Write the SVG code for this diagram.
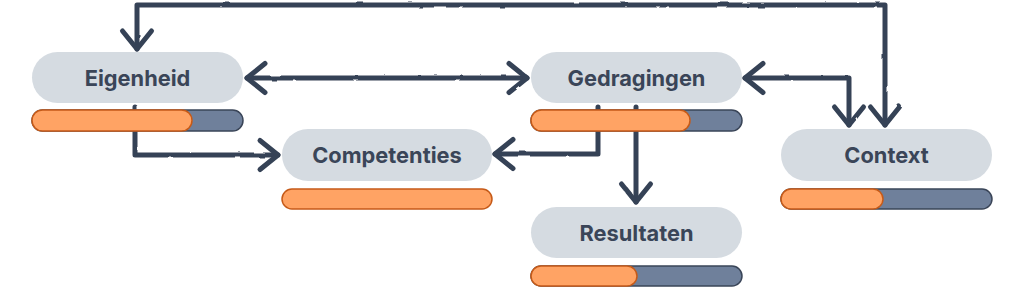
<svg xmlns="http://www.w3.org/2000/svg" width="1024" height="290" viewBox="0 0 1024 290">
<style>
.node{fill:#d5dbe1}
.lbl{font-family:Inter,"Liberation Sans",Arial,sans-serif;font-weight:700;font-size:21.8px;fill:#3a4558;text-anchor:middle}
.track{fill:#6f809b;stroke:#3a4558;stroke-width:1.5}
.fill{fill:#ffa364;stroke:#c65a18;stroke-width:1.5}
.conn{fill:none;stroke:#364256;stroke-width:5;stroke-linecap:round;stroke-linejoin:round}
</style>
<defs>
<marker id="ah" markerUnits="userSpaceOnUse" viewBox="-24 -19 28 38" markerWidth="28" markerHeight="38" refX="0" refY="0" orient="auto-start-reverse">
<path d="M-18,-14.5 L0,0 L-18,14.5" fill="none" stroke="#364256" stroke-width="5" stroke-linecap="round" stroke-linejoin="round"/>
</marker>
<filter id="rough" x="-5%" y="-10%" width="110%" height="120%">
<feTurbulence type="fractalNoise" baseFrequency="0.06" numOctaves="2" seed="3"/>
<feDisplacementMap in="SourceGraphic" scale="2.2"/>
</filter>
</defs>
<g id="connectors" class="conn" filter="url(#rough)">
<path d="M137,49 L137,5 L885,5 L885,125" marker-start="url(#ah)" marker-end="url(#ah)"/>
<path d="M247,78 L527,78" marker-start="url(#ah)" marker-end="url(#ah)"/>
<path d="M745,78 L849,78 L849,125" marker-start="url(#ah)" marker-end="url(#ah)"/>
<path d="M135,107 L135,155 L278,155" marker-end="url(#ah)"/>
<path d="M598,107 L598,154 L495,154" marker-end="url(#ah)"/>
<path d="M636,107 L636,202" marker-end="url(#ah)"/>
</g>
<g id="eigenheid">
<rect class="node" x="32" y="52" width="211" height="51" rx="25.5"/>
<text class="lbl" x="137.5" y="86">Eigenheid</text>
<rect class="track" x="32" y="110" width="211" height="21" rx="10.5"/>
<rect class="fill" x="32" y="110" width="160" height="21" rx="10.5"/>
</g>
<g id="gedragingen">
<rect class="node" x="531" y="52" width="211" height="51" rx="25.5"/>
<text class="lbl" x="636.5" y="86">Gedragingen</text>
<rect class="track" x="531" y="110" width="211" height="21" rx="10.5"/>
<rect class="fill" x="531" y="110" width="159" height="21" rx="10.5"/>
</g>
<g id="competenties">
<rect class="node" x="282" y="129" width="210" height="52" rx="26"/>
<text class="lbl" x="387" y="163">Competenties</text>
<rect class="fill" x="282" y="189" width="210" height="20" rx="10"/>
</g>
<g id="context">
<rect class="node" x="781" y="129" width="211" height="52" rx="26"/>
<text class="lbl" x="886.5" y="163">Context</text>
<rect class="track" x="781" y="189" width="211" height="20" rx="10"/>
<rect class="fill" x="781" y="189" width="102" height="20" rx="10"/>
</g>
<g id="resultaten">
<rect class="node" x="531" y="207" width="211" height="51" rx="25.5"/>
<text class="lbl" x="636.5" y="241">Resultaten</text>
<rect class="track" x="531" y="266" width="211" height="20" rx="10"/>
<rect class="fill" x="531" y="266" width="106" height="20" rx="10"/>
</g>
</svg>
